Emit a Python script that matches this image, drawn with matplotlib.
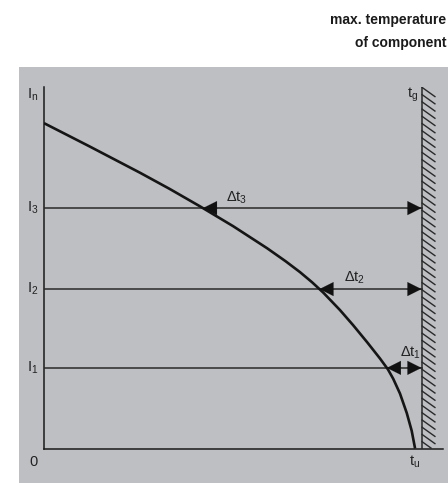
import numpy as np
import matplotlib
matplotlib.use("Agg")
import matplotlib.pyplot as plt
from matplotlib.collections import LineCollection

plt.rcParams['font.family'] = ['Liberation Sans', 'DejaVu Sans']
plt.rcParams['mathtext.fontset'] = 'custom'
plt.rcParams['mathtext.rm'] = 'Liberation Sans'
plt.rcParams['mathtext.it'] = 'Liberation Sans'
plt.rcParams['mathtext.default'] = 'regular'

# ---- data (t in % of t_g, I in % of axis height) ----
curve_t = [0.0, 12.0, 25.4, 33.3, 41.3, 50.1, 59.1, 64.0, 67.8, 71.0, 74.0, 78.4,
           81.9, 85.6, 89.0, 91.1, 92.5, 94.3, 96.1, 97.4, 98.3]
curve_I = [90.0, 83.6, 76.3, 71.8, 67.0, 61.5, 55.4, 51.8, 48.8, 46.0, 43.1, 38.3,
           34.1, 29.4, 24.9, 21.9, 19.3, 15.2, 9.8, 4.9, 0.0]
level_names = ['I$_1$', 'I$_2$', 'I$_3$']
level_values = [22.3, 44.1, 66.5]
delta_names = ['Δt$_1$', 'Δt$_2$', 'Δt$_3$']
delta_label_t = [97.0, 82.4, 51.1]
delta_label_I = [26.4, 47.2, 69.3]
t_g = 100.0
t_u = 98.3
I_top = 100.0
I_n_label = 97.8
title_lines = ['max. temperature', 'of component']

W, H = 448, 483
fig = plt.figure(figsize=(W / 100, H / 100), dpi=100)

# gray panel (background axes)
bg = fig.add_axes([19 / W, 0, (W - 19) / W, (H - 67) / H], zorder=-5)
bg.set_facecolor('#bebfc3')
bg.set_xticks([])
bg.set_yticks([])
for s in bg.spines.values():
    s.set_visible(False)

x0, x1 = 44, 443
y_top, y_bot = 87, 448.5
ax = fig.add_axes([x0 / W, (H - y_bot) / H, (x1 - x0) / W, (y_bot - y_top) / H], zorder=1)
ax.set_facecolor('none')
px_per_t = 377.5 / 100.0
ax.set_xlim(0, (x1 - x0) / px_per_t)
ax.set_ylim(0, I_top)
for s in ['top', 'right']:
    ax.spines[s].set_visible(False)
for s in ['left', 'bottom']:
    ax.spines[s].set_linewidth(1.1)
    ax.spines[s].set_color('#1a1a1a')
ax.set_xticks([])
ax.set_yticks([])

# wall with hatching
ax.plot([t_g, t_g], [0, I_top], color='#2a2a2a', lw=1.1, zorder=3)
segs = []
dx, dy = 14 / px_per_t, 10 / 3.615
for y in np.arange(I_top, 0, -2.0):
    ye = y - dy
    xe = t_g + dx
    if ye < 0:
        frac = y / dy
        ye = 0
        xe = t_g + dx * frac
    segs.append([(t_g, y), (xe, ye)])
ax.add_collection(LineCollection(segs, colors='#2a2a2a', linewidths=1.0, zorder=3))

# curve
ax.plot(curve_t, curve_I, color='#151515', lw=1.9, zorder=4,
        solid_joinstyle='round', solid_capstyle='butt')

# levels with arrows
rev_I = curve_I[::-1]
rev_t = curve_t[::-1]
for name, lev, dname, lt, li in zip(level_names, level_values, delta_names,
                                    delta_label_t, delta_label_I):
    ax.plot([0, t_g], [lev, lev], color='#2a2a2a', lw=1.1, zorder=3)
    tc = float(np.interp(lev, rev_I, rev_t))
    aprops = dict(arrowstyle='-|>,head_length=1.0,head_width=0.5', color='#111111',
                  lw=0.1, shrinkA=0, shrinkB=0, mutation_scale=10)
    ax.annotate('', xy=(tc, lev), xytext=(tc + 4, lev), arrowprops=aprops, zorder=5)
    ax.annotate('', xy=(t_g, lev), xytext=(t_g - 4, lev), arrowprops=aprops, zorder=5)
    ax.text(-2.9, lev, name, ha='center', va='center', fontsize=10.5, color='#222222')
    ax.text(lt, li, dname, ha='center', va='center', fontsize=10.5, color='#222222')

ax.text(-2.9, I_n_label, 'I$_n$', ha='center', va='center', fontsize=10.5, color='#222222')
ax.text(-2.9, -3.7, '0', ha='center', va='center', fontsize=10.5, color='#222222')
ax.text(t_u, -3.7, 't$_u$', ha='center', va='center', fontsize=10.5, color='#222222')
ax.text(t_g - 2.3, I_n_label, 't$_g$', ha='center', va='center', fontsize=10.5, color='#222222')

# title
for i, line in enumerate(title_lines):
    fig.text(446 / W, 1 - (20 + 23 * i) / H, line, ha='right', va='center',
             fontsize=10, fontweight='bold',
             family=['Liberation Sans Narrow', 'Liberation Sans', 'DejaVu Sans'],
             color='#1a1a1a')

fig.savefig('out.png', dpi=100)
